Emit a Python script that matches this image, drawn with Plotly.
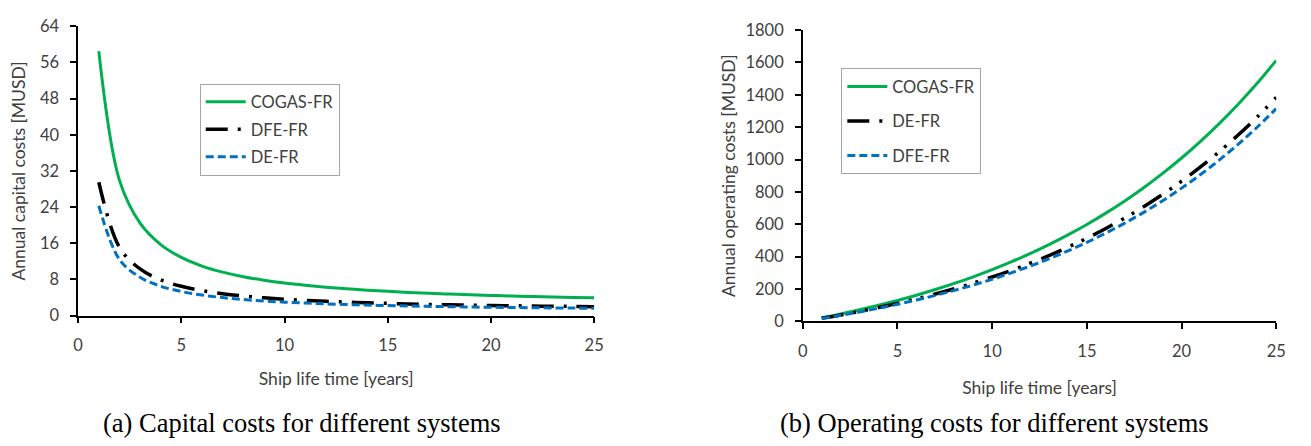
import plotly.graph_objects as go

# ---------------- data ----------------
years = list(range(1, 26))

# (a) annual capital costs [MUSD]
cap_cogas = [58.5, 29.96, 20.45, 15.71, 12.87, 10.97, 9.63, 8.62, 7.84, 7.21,
             6.71, 6.28, 5.93, 5.63, 5.37, 5.14, 4.94, 4.77, 4.61, 4.47,
             4.34, 4.23, 4.13, 4.04, 3.95]
cap_dfe = [29.5, 15.11, 10.32, 7.92, 6.49, 5.54, 4.86, 4.35, 3.95, 3.64,
           3.38, 3.17, 2.99, 2.84, 2.71, 2.59, 2.49, 2.40, 2.33, 2.25,
           2.19, 2.13, 2.08, 2.04, 1.99]
cap_de = [24.3, 12.42, 8.48, 6.51, 5.34, 4.55, 3.99, 3.57, 3.25, 2.99,
          2.78, 2.61, 2.46, 2.33, 2.23, 2.13, 2.05, 1.98, 1.91, 1.85,
          1.80, 1.75, 1.71, 1.67, 1.64]

# (b) annual operating costs [MUSD]
op_cogas = [22.1, 45.9, 71.6, 99.4, 129.4, 161.8, 196.8, 234.6, 275.5, 319.6,
            367.2, 418.6, 474.2, 534.2, 599.0, 669.0, 744.5, 826.2, 914.3, 1009.5,
            1112.3, 1223.4, 1343.3, 1472.8, 1612.7]
op_de = [18.9, 39.4, 61.5, 85.3, 111.1, 138.9, 168.9, 201.4, 236.4, 274.2,
         315.1, 359.2, 406.9, 458.4, 514.0, 574.0, 638.9, 708.9, 784.6, 866.3,
         954.5, 1049.8, 1152.7, 1263.9, 1383.9]
op_dfe = [18.0, 37.4, 58.4, 81.1, 105.5, 132.0, 160.5, 191.4, 224.7, 260.6,
          299.5, 341.4, 386.7, 435.6, 488.5, 545.5, 607.2, 673.7, 745.6, 823.3,
          907.1, 997.7, 1095.5, 1201.1, 1315.2]

cap_ticks = [0, 8, 16, 24, 32, 40, 48, 56, 64]
op_ticks = [0, 200, 400, 600, 800, 1000, 1200, 1400, 1600, 1800]
x_ticks = [0, 5, 10, 15, 20, 25]

# ---------------- styles ----------------
W, H = 1311, 446
GREEN = "#00B050"
BLACK = "#000000"
BLUE = "#0070C0"
TXT = "#404040"
FONT = "Lato"

fig = go.Figure()

def add(x, y, name, color, dash, xa, ya, leg, group, width=3):
    fig.add_trace(go.Scatter(
        x=x, y=y, name=name, mode="lines",
        line=dict(color=color, width=width, dash=dash, shape="spline", smoothing=1),
        xaxis=xa, yaxis=ya, legend=leg, legendgroup=group, hoverinfo="skip"))

DASHDOT = "22px,10px,3px,10px"
DASHDOTDOT = "22px,10px,3px,9px,3px,10px"
SHORTDASH = "8px,4px"

add(years, cap_cogas, "COGAS-FR", GREEN, "solid", "x", "y", "legend", "a1")
add(years, cap_dfe, "DFE-FR", BLACK, DASHDOT, "x", "y", "legend", "a2", 3.5)
add(years, cap_de, "DE-FR", BLUE, SHORTDASH, "x", "y", "legend", "a3")

add(years, op_cogas, "COGAS-FR", GREEN, "solid", "x2", "y2", "legend2", "b1")
add(years, op_de, "DE-FR", BLACK, DASHDOTDOT, "x2", "y2", "legend2", "b2", 3.5)
add(years, op_dfe, "DFE-FR", BLUE, SHORTDASH, "x2", "y2", "legend2", "b3")

def axis_common(standoff_lbl):
    return dict(
        showline=True, linecolor="#000000", linewidth=1.5,
        showgrid=False, zeroline=False,
        ticks="outside", tickcolor="#000000", tickwidth=1.5, ticklen=6,
        ticklabelstandoff=standoff_lbl,
        tickfont=dict(family=FONT, size=16.5, color=TXT),
        title_font=dict(family=FONT, size=17.5, color=TXT),
    )

def px_x(p):
    return p / W

def px_y(p):
    return 1 - p / H

fig.update_layout(
    width=W, height=H,
    margin=dict(l=0, r=0, t=0, b=0),
    paper_bgcolor="white", plot_bgcolor="white",
    showlegend=True,
    xaxis=dict(domain=[px_x(74), px_x(596)], range=[0, 25], tickvals=x_ticks,
               anchor="y", title=dict(text="Ship life time [years]", standoff=19),
               **axis_common(8)),
    yaxis=dict(domain=[px_y(320), px_y(17)], range=[0, 64], tickvals=cap_ticks,
               anchor="x", title=dict(text="Annual capital costs [MUSD]", standoff=10),
               **axis_common(8)),
    xaxis2=dict(domain=[px_x(807), px_x(1286)], range=[0, 25], tickvals=x_ticks,
                anchor="y2", title=dict(text="Ship life time [years]", standoff=22),
                **axis_common(8)),
    yaxis2=dict(domain=[px_y(326), px_y(21)], range=[0, 1800], tickvals=op_ticks,
                anchor="x2", title=dict(text="Annual operating costs [MUSD]", standoff=5),
                **axis_common(8)),
    legend=dict(x=px_x(197), y=px_y(77), xanchor="left", yanchor="top",
                bordercolor="#A6A6A6", borderwidth=1, bgcolor="white",
                font=dict(family=FONT, size=16.5, color=TXT), tracegroupgap=3,
                itemwidth=40),
    legend2=dict(x=px_x(846), y=px_y(61), xanchor="left", yanchor="top",
                 bordercolor="#A6A6A6", borderwidth=1, bgcolor="white",
                 font=dict(family=FONT, size=16.5, color=TXT), tracegroupgap=10,
                 itemwidth=40),
    annotations=[
        dict(text="(a) Capital costs for different systems", x=px_x(300), y=px_y(432),
             xref="paper", yref="paper", showarrow=False, xanchor="center", yanchor="middle",
             font=dict(family="Liberation Serif", size=26.5, color="#000000")),
        dict(text="(b) Operating costs for different systems", x=px_x(1001), y=px_y(432),
             xref="paper", yref="paper", showarrow=False, xanchor="center", yanchor="middle",
             font=dict(family="Liberation Serif", size=26.5, color="#000000")),
    ],
)

fig.write_html("out.html")
